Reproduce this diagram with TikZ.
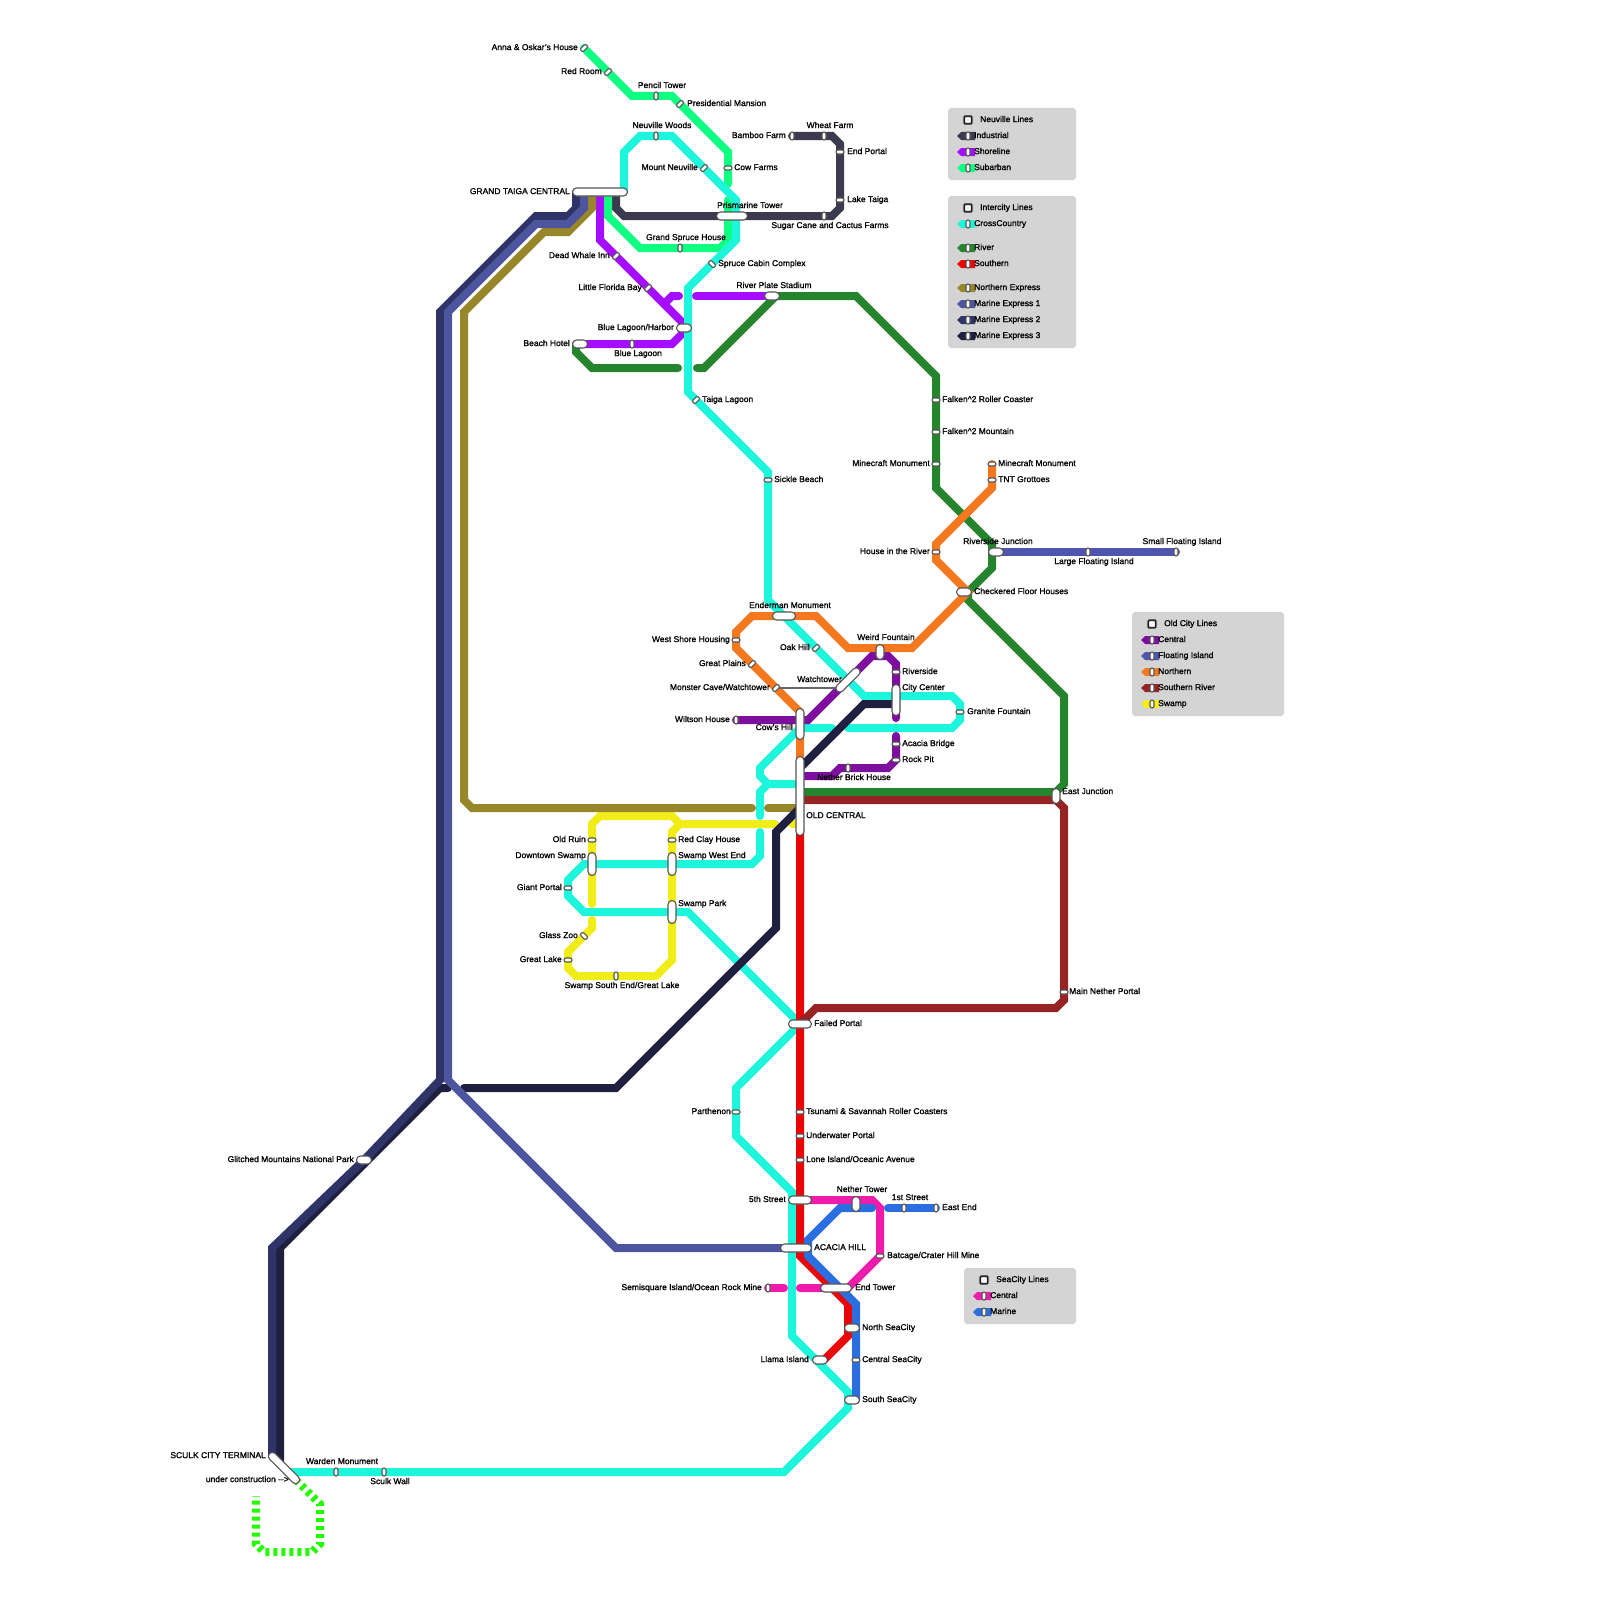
\documentclass[tikz,border=0pt]{standalone}
\usepackage{fontspec}
\usepackage{tikz}
\usepackage{xcolor}
\usetikzlibrary{shapes.symbols,backgrounds}
\setmainfont{Liberation Sans}[FakeBold=1.2]
\definecolor{lineIndustrial}{HTML}{3B3A4E}
\definecolor{lineShoreline}{HTML}{A50DFF}
\definecolor{lineSubarban}{HTML}{10FF82}
\definecolor{lineCross}{HTML}{1DF6DC}
\definecolor{lineRiver}{HTML}{25852F}
\definecolor{lineSouthern}{HTML}{E80606}
\definecolor{lineNorthExp}{HTML}{98862A}
\definecolor{lineMarineA}{HTML}{4E559F}
\definecolor{lineMarineB}{HTML}{2F3468}
\definecolor{lineMarineC}{HTML}{1F2040}
\definecolor{lineCentral}{HTML}{7E0F9E}
\definecolor{lineFloating}{HTML}{4F55AC}
\definecolor{lineNorthern}{HTML}{F47820}
\definecolor{lineSouthRiver}{HTML}{962424}
\definecolor{lineSwamp}{HTML}{F2EC18}
\definecolor{lineSeaCentral}{HTML}{EE1CAC}
\definecolor{lineSeaMarine}{HTML}{2A6EE0}
\definecolor{lineBuild}{HTML}{22FF00}
\definecolor{stopedge}{HTML}{555555}
\definecolor{panelgrey}{HTML}{D4D4D4}

\begin{document}
\begin{tikzpicture}[
  x=1pt, y=-1pt,
  track/.style={line width=8pt, line cap=round},
  stopsmall/.style={draw=stopedge, fill=white, line width=1.1pt, rounded corners=2pt,
               minimum width=8pt, minimum height=4pt, inner sep=0pt},
  hub/.style={draw=stopedge, fill=white, line width=1.1pt, rounded corners=4pt,
               minimum height=8pt, inner sep=0pt},
  lbl/.style={font=\fontsize{8.5}{9}\selectfont, inner sep=0pt, text=black,
               text height=6.2pt, text depth=0pt},
  panel/.style={fill=panelgrey, rounded corners=3pt, inner sep=0pt},
  panelkey/.style={draw=black!85, fill=white, line width=1.8pt, rounded corners=1pt,
               minimum size=7.5pt, inner sep=0pt},
  swatch/.style={shape=signal, signal to=west, signal from=nowhere, minimum width=18pt,
               minimum height=8pt, inner sep=0pt},
]
\useasboundingbox (0,0) rectangle (1600,1600);

% --- stations of the upper Neuville area ----------------------------------
\node[hub, minimum width=55pt] (grandtaiga) at (600,192) {};
\node[hub, minimum width=31pt] (prismarine) at (732,216) {};
\node[hub, minimum width=15pt] (riverplate) at (772,296) {};
\node[hub, minimum width=15pt] (harbor) at (684,328) {};
\node[hub, minimum width=15pt] (beachhotel) at (580,344) {};
\node[stopsmall, rotate=45] (annaoskar) at (584,48) {};
\node[stopsmall, rotate=45] (redroom) at (608,72) {};
\node[stopsmall, rotate=90] (penciltower) at (656,96) {};
\node[stopsmall, rotate=45] (presidential) at (680,104) {};
\node[stopsmall, rotate=90] (neuvillewoods) at (656,136) {};
\node[stopsmall, rotate=45] (mountneuville) at (704,168) {};
\node[stopsmall] (cowfarms) at (728,168) {};
\node[stopsmall, rotate=90] (bamboofarm) at (792,136) {};
\node[stopsmall, rotate=90] (wheatfarm) at (824,136) {};
\node[stopsmall] (endportal) at (840,152) {};
\node[stopsmall] (laketaiga) at (840,200) {};
\node[stopsmall, rotate=90] (sugarcane) at (824,216) {};
\node[stopsmall, rotate=90] (grandspruce) at (680,248) {};
\node[stopsmall, rotate=45] (deadwhale) at (616,256) {};
\node[stopsmall, rotate=-45] (sprucecabin) at (712,264) {};
\node[stopsmall, rotate=45] (florida) at (648,288) {};
\node[stopsmall, rotate=90] (bluelagoon) at (632,344) {};
\node[stopsmall, rotate=45] (taigalagoon) at (696,400) {};
\node[stopsmall] (sicklebeach) at (768,480) {};

\node[lbl, anchor=east] (annaoskar-t) at (578,47) {Anna \& Oskar's House};
\node[lbl, anchor=east] (redroom-t) at (602,71) {Red Room};
\node[lbl] (penciltower-t) at (662,85) {Pencil Tower};
\node[lbl, anchor=west] (presidential-t) at (687,103) {Presidential Mansion};
\node[lbl] (neuvillewoods-t) at (662,125) {Neuville Woods};
\node[lbl, anchor=east] (mountneuville-t) at (698,167) {Mount Neuville};
\node[lbl, anchor=west] (cowfarms-t) at (734,167) {Cow Farms};
\node[lbl, anchor=east] (bamboofarm-t) at (786,135) {Bamboo Farm};
\node[lbl] (wheatfarm-t) at (830,125) {Wheat Farm};
\node[lbl, anchor=west] (endportal-t) at (847,151) {End Portal};
\node[lbl, anchor=west] (laketaiga-t) at (847,199) {Lake Taiga};
\node[lbl] (sugarcane-t) at (830,225) {Sugar Cane and Cactus Farms};
\node[lbl, anchor=east] (grandtaiga-t) at (570,191) {GRAND TAIGA CENTRAL};
\node[lbl] (prismarine-t) at (750,205) {Prismarine Tower};
\node[lbl] (grandspruce-t) at (686,237) {Grand Spruce House};
\node[lbl, anchor=east] (deadwhale-t) at (610,255) {Dead Whale Inn};
\node[lbl, anchor=west] (sprucecabin-t) at (718,263) {Spruce Cabin Complex};
\node[lbl, anchor=east] (florida-t) at (642,287) {Little Florida Bay};
\node[lbl] (riverplate-t) at (774,285) {River Plate Stadium};
\node[lbl, anchor=east] (harbor-t) at (674,327) {Blue Lagoon/Harbor};
\node[lbl, anchor=east] (beachhotel-t) at (570,343) {Beach Hotel};
\node[lbl] (bluelagoon-t) at (638,353) {Blue Lagoon};
\node[lbl, anchor=west] (taigalagoon-t) at (702,399) {Taiga Lagoon};
\node[lbl, anchor=west] (sicklebeach-t) at (774,479) {Sickle Beach};

% --- stations of the river and the old city -------------------------------
\node[stopsmall] (falkencoaster) at (936,400) {};
\node[stopsmall] (falkenmountain) at (936,432) {};
\node[stopsmall] (minecraftriver) at (936,464) {};
\node[stopsmall] (minecraftnorth) at (992,464) {};
\node[stopsmall] (tntgrottoes) at (992,480) {};
\node[stopsmall] (houseriver) at (936,552) {};
\node[hub, minimum width=15pt] (riverjunction) at (996,552) {};
\node[stopsmall, rotate=90] (largefloating) at (1088,552) {};
\node[stopsmall, rotate=90] (smallfloating) at (1176,552) {};
\node[hub, minimum width=15pt] (checkered) at (964,592) {};
\node[hub, minimum width=23pt] (enderman) at (784,616) {};
\node[stopsmall] (westshore) at (736,640) {};
\node[stopsmall, rotate=45] (oakhill) at (816,648) {};
\node[hub, minimum width=15pt, rotate=90] (weirdfountain) at (880,652) {};
\node[stopsmall, rotate=45] (greatplains) at (752,664) {};
\node[stopsmall] (riverside) at (896,672) {};
\node[hub, minimum width=31pt, rotate=45] (watchtower) at (848,680) {};
\node[stopsmall, rotate=45] (monstercave) at (776,688) {};
\node[hub, minimum width=31pt, rotate=90] (citycenter) at (896,700) {};
\node[stopsmall] (granite) at (960,712) {};
\node[stopsmall, rotate=90] (wiltson) at (736,720) {};
\node[hub, minimum width=31pt, rotate=90] (cowshill) at (800,724) {};
\node[stopsmall] (acaciabridge) at (896,744) {};
\node[stopsmall] (rockpit) at (896,760) {};
\node[stopsmall, rotate=90] (netherbrick) at (848,768) {};
\node[hub, minimum width=79pt, rotate=90] (oldcentral) at (800,796) {};
\node[hub, minimum width=15pt, rotate=90] (eastjunction) at (1056,796) {};
\node[stopsmall] (mainnether) at (1064,992) {};

\node[lbl, anchor=west] (falkencoaster-t) at (942,399) {Falken\^{}2 Roller Coaster};
\node[lbl, anchor=west] (falkenmountain-t) at (942,431) {Falken\^{}2 Mountain};
\node[lbl, anchor=east] (minecraftriver-t) at (930,463) {Minecraft Monument};
\node[lbl, anchor=west] (minecraftnorth-t) at (998,463) {Minecraft Monument};
\node[lbl, anchor=west] (tntgrottoes-t) at (998,479) {TNT Grottoes};
\node[lbl, anchor=east] (houseriver-t) at (930,551) {House in the River};
\node[lbl] (riverjunction-t) at (998,541) {Riverside Junction};
\node[lbl] (largefloating-t) at (1094,561) {Large Floating Island};
\node[lbl] (smallfloating-t) at (1182,541) {Small Floating Island};
\node[lbl, anchor=west] (checkered-t) at (974,591) {Checkered Floor Houses};
\node[lbl] (enderman-t) at (790,605) {Enderman Monument};
\node[lbl, anchor=east] (westshore-t) at (730,639) {West Shore Housing};
\node[lbl, anchor=east] (oakhill-t) at (810,647) {Oak Hill};
\node[lbl] (weirdfountain-t) at (886,637) {Weird Fountain};
\node[lbl, anchor=east] (greatplains-t) at (746,663) {Great Plains};
\node[lbl, anchor=west] (riverside-t) at (902,671) {Riverside};
\node[lbl] (watchtower-t) at (819.5,679) {Watchtower};
\node[lbl, anchor=east] (monstercave-t) at (770,687) {Monster Cave/Watchtower};
\node[lbl, anchor=west] (citycenter-t) at (902,687) {City Center};
\node[lbl, anchor=west] (granite-t) at (967,711) {Granite Fountain};
\node[lbl, anchor=east] (wiltson-t) at (730,719) {Wiltson House};
\node[lbl, anchor=east] (cowshill-t) at (793,727) {Cow's Hill};
\node[lbl, anchor=west] (acaciabridge-t) at (902,743) {Acacia Bridge};
\node[lbl, anchor=west] (rockpit-t) at (902,759) {Rock Pit};
\node[lbl] (netherbrick-t) at (854,777) {Nether Brick House};
\node[lbl, anchor=west] (oldcentral-t) at (806,815) {OLD CENTRAL};
\node[lbl, anchor=west] (eastjunction-t) at (1062,791) {East Junction};
\node[lbl, anchor=west] (mainnether-t) at (1069,991) {Main Nether Portal};

% --- stations of the swamp -------------------------------------------------
\node[stopsmall] (oldruin) at (592,840) {};
\node[stopsmall] (redclay) at (672,840) {};
\node[hub, minimum width=23pt, rotate=90] (downtown) at (592,864) {};
\node[hub, minimum width=23pt, rotate=90] (swampwest) at (672,864) {};
\node[stopsmall] (giantportal) at (568,888) {};
\node[hub, minimum width=23pt, rotate=90] (swamppark) at (672,912) {};
\node[stopsmall, rotate=-45] (glasszoo) at (584,936) {};
\node[stopsmall] (greatlake) at (568,960) {};
\node[stopsmall, rotate=90] (swampsouth) at (616,976) {};

\node[lbl, anchor=east] (oldruin-t) at (586,839) {Old Ruin};
\node[lbl, anchor=west] (redclay-t) at (678,839) {Red Clay House};
\node[lbl, anchor=east] (downtown-t) at (586,855) {Downtown Swamp};
\node[lbl, anchor=west] (swampwest-t) at (678,855) {Swamp West End};
\node[lbl, anchor=east] (giantportal-t) at (562,887) {Giant Portal};
\node[lbl, anchor=west] (swamppark-t) at (678,903) {Swamp Park};
\node[lbl, anchor=east] (glasszoo-t) at (578,935) {Glass Zoo};
\node[lbl, anchor=east] (greatlake-t) at (562,959) {Great Lake};
\node[lbl] (swampsouth-t) at (622,985) {Swamp South End/Great Lake};

% --- stations of the south -------------------------------------------------
\node[hub, minimum width=23pt] (failedportal) at (800,1024) {};
\node[stopsmall] (parthenon) at (736,1112) {};
\node[stopsmall] (tsunami) at (800,1112) {};
\node[stopsmall] (underwater) at (800,1136) {};
\node[stopsmall] (loneisland) at (800,1160) {};
\node[hub, minimum width=15pt] (glitched) at (364,1160) {};
\node[hub, minimum width=23pt] (fifthstreet) at (800,1200) {};
\node[hub, minimum width=15pt, rotate=90] (nethertower) at (856,1204) {};
\node[stopsmall, rotate=90] (firststreet) at (904,1208) {};
\node[stopsmall, rotate=90] (eastend) at (936,1208) {};
\node[hub, minimum width=31pt] (acaciahill) at (796,1248) {};
\node[stopsmall] (batcage) at (880,1256) {};
\node[stopsmall, rotate=90] (semisquare) at (768,1288) {};
\node[hub, minimum width=31pt] (endtower) at (836,1288) {};
\node[hub, minimum width=15pt] (northsea) at (852,1328) {};
\node[hub, minimum width=15pt] (llama) at (820,1360) {};
\node[stopsmall] (centralsea) at (856,1360) {};
\node[hub, minimum width=15pt] (southsea) at (852,1400) {};
\node[hub, minimum width=41pt, rotate=-45] (sculkterminal) at (284,1468) {};
\node[stopsmall, rotate=90] (warden) at (336,1472) {};
\node[stopsmall, rotate=90] (sculkwall) at (384,1472) {};

\node[lbl, anchor=west] (failedportal-t) at (814,1023) {Failed Portal};
\node[lbl, anchor=east] (parthenon-t) at (731,1111) {Parthenon};
\node[lbl, anchor=west] (tsunami-t) at (806,1111) {Tsunami \& Savannah Roller Coasters};
\node[lbl, anchor=west] (underwater-t) at (806,1135) {Underwater Portal};
\node[lbl, anchor=west] (loneisland-t) at (806,1159) {Lone Island/Oceanic Avenue};
\node[lbl, anchor=east] (glitched-t) at (354,1159) {Glitched Mountains National Park};
\node[lbl, anchor=east] (fifthstreet-t) at (786,1199) {5th Street};
\node[lbl] (nethertower-t) at (862,1189) {Nether Tower};
\node[lbl] (firststreet-t) at (910,1197) {1st Street};
\node[lbl, anchor=west] (eastend-t) at (942,1207) {East End};
\node[lbl, anchor=west] (acaciahill-t) at (814,1247) {ACACIA HILL};
\node[lbl, anchor=west] (batcage-t) at (887,1255) {Batcage/Crater Hill Mine};
\node[lbl, anchor=east] (semisquare-t) at (762,1287) {Semisquare Island/Ocean Rock Mine};
\node[lbl, anchor=west] (endtower-t) at (855,1287) {End Tower};
\node[lbl, anchor=west] (northsea-t) at (862,1327) {North SeaCity};
\node[lbl, anchor=east] (llama-t) at (809,1359) {Llama Island};
\node[lbl, anchor=west] (centralsea-t) at (862,1359) {Central SeaCity};
\node[lbl, anchor=west] (southsea-t) at (862,1399) {South SeaCity};
\node[lbl, anchor=east] (sculkterminal-t) at (266,1455) {SCULK CITY TERMINAL};
\node[lbl, anchor=east] (building-t) at (289,1479) {under construction -{}->};
\node[lbl] (warden-t) at (342,1461) {Warden Monument};
\node[lbl] (sculkwall-t) at (390,1481) {Sculk Wall};

% --- the lines go on the background layer, so the stations stay on top
\begin{scope}[on background layer]
\draw[track, lineIndustrial] ([xshift=16pt]grandtaiga.center) -- (616,208) -- (624,216)
  -- (sugarcane.center) -- (832,216) -- (840,208) -- (laketaiga.center) -- (endportal.center)
  -- (840,144) -- (832,136) -- (wheatfarm.center) -- (bamboofarm.center);

\draw[track, lineShoreline] (grandtaiga.center) -- (600,240) -- (deadwhale.center)
  -- (florida.center) -- (664,304) -- ([xshift=4pt]harbor.center);
\draw[track, lineShoreline] (664,304) -- (672,296) -- (679,296);
\draw[track, lineShoreline] (696,296) -- (riverplate.center);
\draw[track, lineShoreline] (beachhotel.center) -- (bluelagoon.center) -- (672,344)
  -- ([xshift=4pt]harbor.center);

\draw[track, lineSubarban] (annaoskar.center) -- (redroom.center) -- (632,96)
  -- (penciltower.center) -- (672,96) -- (presidential.center) -- (728,152)
  -- (cowfarms.center) -- (728,184);
\draw[track, lineSubarban] (728,200) -- (728,240) -- (720,248) -- (grandspruce.center)
  -- (640,248) -- (608,216) -- ([xshift=8pt]grandtaiga.center);

\draw[track, lineRiver] ([xshift=-4pt]beachhotel.center) -- (576,352) -- (592,368) -- (678,368);
\draw[track, lineRiver] (697,368) -- (704,368) -- ([xshift=4pt]riverplate.center) -- (856,296)
  -- (936,376) -- (falkencoaster.center) -- (falkenmountain.center) -- (minecraftriver.center)
  -- (936,488) -- (992,544) -- (992,568) -- ([xshift=4pt]checkered.center) -- (968,600)
  -- (1064,696) -- (1064,784) -- (1056,792) -- ([yshift=4pt]oldcentral.center);

\draw[track, lineCross] ([xshift=24pt]grandtaiga.center) -- (624,152) -- (640,136)
  -- (neuvillewoods.center) -- (672,136) -- (mountneuville.center) -- (736,200) -- (736,240)
  -- (sprucecabin.center) -- (688,288) -- (688,392) -- (taigalagoon.center) -- (768,472)
  -- (sicklebeach.center) -- (768,600) -- (oakhill.center) -- (watchtower.center) -- (864,696)
  -- (952,696) -- (960,704) -- (granite.center) -- (960,720) -- (952,728) -- (848,728);
\draw[track, lineCross] (832,728) -- ([yshift=-4pt]cowshill.center) -- (760,768) -- (760,776)
  -- (768,784) -- ([yshift=12pt]oldcentral.center);
\draw[track, lineCross] (768,784) -- (760,792) -- (760,816);
\draw[track, lineCross] (760,832) -- (760,856) -- (752,864) -- (swampwest.center)
  -- (downtown.center) -- (584,864) -- (568,880) -- (giantportal.center) -- (568,896)
  -- (584,912) -- (swamppark.center) -- (688,912) -- (failedportal.center) -- (736,1088)
  -- (parthenon.center) -- (736,1136) -- (792,1192) -- (792,1336) -- (848,1392) -- (848,1408)
  -- (784,1472) -- (sculkwall.center) -- (warden.center)
  -- ([shift={(4pt,-4pt)}]sculkterminal.center);

\draw[track, lineSouthern] ([yshift=-32pt]oldcentral.center) -- (failedportal.center)
  -- (tsunami.center) -- (underwater.center) -- (loneisland.center) -- (fifthstreet.center)
  -- (800,1256) -- (848,1304) -- (848,1336) -- ([xshift=4pt]llama.center);

\draw[track, lineSouthRiver] ([yshift=-4pt]oldcentral.center) -- (1056,800) -- (1064,808)
  -- (mainnether.center) -- (1064,1000) -- (1056,1008) -- (816,1008) -- (failedportal.center);

\draw[track, lineNorthern] (minecraftnorth.center) -- (tntgrottoes.center) -- (992,488)
  -- (936,544) -- (houseriver.center) -- (936,560) -- ([xshift=4pt]checkered.center) -- (912,648)
  -- (848,648) -- (816,616) -- (enderman.center) -- (752,616) -- (736,632)
  -- (westshore.center) -- (736,648) -- (greatplains.center) -- (monstercave.center) -- (800,712)
  -- ([yshift=28pt]oldcentral.center);

\draw[track, lineCentral] (wiltson.center) -- (808,720) -- (watchtower.center) -- (872,656)
  -- (888,656) -- (896,664) -- (riverside.center) -- (citycenter.center) -- (896,718);
\draw[track, lineCentral] (896,736) -- (acaciabridge.center) -- (rockpit.center) -- (888,768)
  -- (netherbrick.center) -- (840,768) -- (832,776) -- ([yshift=20pt]oldcentral.center);

\draw[track, lineFloating] (riverjunction.center) -- (largefloating.center) -- (smallfloating.center);

\draw[track, lineSwamp] (792,824) -- (800,824);
\draw[track, lineSwamp] (775,824) -- (680,824) -- (672,816) -- (600,816) -- (592,824)
  -- (oldruin.center) -- (downtown.center) -- (592,904);
\draw[track, lineSwamp] (592,920) -- (592,928) -- (glasszoo.center) -- (568,952)
  -- (greatlake.center) -- (568,968) -- (576,976) -- (swampsouth.center) -- (656,976)
  -- (672,960) -- (swamppark.center) -- (swampwest.center) -- (redclay.center) -- (672,832)
  -- (680,824);

\draw[track, lineNorthExp] ([xshift=-8pt]grandtaiga.center) -- (592,208) -- (568,232)
  -- (544,232) -- (464,312) -- (464,800) -- (472,808) -- (752,808);
\draw[track, lineNorthExp] (768,808) -- ([yshift=-12pt]oldcentral.center);

\draw[track, lineMarineC] (448,1088) -- (440,1088) -- (280,1248) -- ([shift={(-4pt,4pt)}]sculkterminal.center);
\draw[track, lineMarineC] (464,1088) -- (616,1088) -- (776,928) -- (776,832)
  -- ([yshift=-12pt]oldcentral.center);
\draw[track, lineMarineC] ([yshift=-4pt]citycenter.center) -- (864,704)
  -- ([yshift=28pt]oldcentral.center);
\draw[track, lineMarineB] ([xshift=-24pt]grandtaiga.center) -- (576,208) -- (568,216)
  -- (536,216) -- (440,312) -- (440,1080) -- (glitched.center) -- (272,1248) -- (272,1456);
\draw[track, lineMarineA] ([xshift=-16pt]grandtaiga.center) -- (584,208) -- (568,224)
  -- (536,224) -- (448,312) -- (448,1080) -- (616,1248) -- ([xshift=-12pt]acaciahill.center);

\draw[track, lineSeaCentral] (fifthstreet.center) -- (872,1200) -- (880,1208) -- (batcage.center)
  -- ([xshift=12pt]endtower.center) -- (800,1288);
\draw[track, lineSeaCentral] (784,1288) -- (semisquare.center);
\draw[track, lineSeaMarine] ([xshift=12pt]acaciahill.center) -- (808,1240) -- (840,1208) -- (872,1208);
\draw[track, lineSeaMarine] (888,1208) -- (firststreet.center) -- (eastend.center);
\draw[track, lineSeaMarine] ([xshift=12pt]acaciahill.center) -- (808,1256) -- (856,1304)
  -- (centralsea.center) -- (856,1400);

\draw[line width=8pt, lineBuild, dash pattern=on 4pt off 4pt] ([shift={(12pt,-12pt)}]sculkterminal.center)
  -- (320,1504) -- (320,1544) -- (312,1552) -- (264,1552) -- (256,1544) -- (256,1496);
\draw[line width=1.5pt, stopedge!90] (monstercave.center) -- ([shift={(-8pt,-8pt)}]watchtower.center);
\end{scope}

% --- legend --------------------------------------------------------------
\node[panel, minimum width=128pt, minimum height=72pt] (neuvillepanel) at (1012,144) {};
\node[panelkey] (neuvillekey) at (968,120) {};
\node[lbl, anchor=west] (neuvilletitle) at (980,119) {Neuville Lines};
\node[swatch, fill=lineIndustrial] (keyindustrial) at (968,136) {};
\node[stopsmall, rotate=90] at (keyindustrial) {};
\node[lbl, anchor=west] (keyindustrial-t) at (974,135) {Industrial};
\node[swatch, fill=lineShoreline] (keyshoreline) at (968,152) {};
\node[stopsmall, rotate=90] at (keyshoreline) {};
\node[lbl, anchor=west] (keyshoreline-t) at (974,151) {Shoreline};
\node[swatch, fill=lineSubarban] (keysubarban) at (968,168) {};
\node[stopsmall, rotate=90] at (keysubarban) {};
\node[lbl, anchor=west] (keysubarban-t) at (974,167) {Subarban};

\node[panel, minimum width=128pt, minimum height=152pt] (intercitypanel) at (1012,272) {};
\node[panelkey] (intercitykey) at (968,208) {};
\node[lbl, anchor=west] (intercitytitle) at (980,207) {Intercity Lines};
\node[swatch, fill=lineCross] (keycross) at (968,224) {};
\node[stopsmall, rotate=90] at (keycross) {};
\node[lbl, anchor=west] (keycross-t) at (974,223) {CrossCountry};
\node[swatch, fill=lineRiver] (keyriver) at (968,248) {};
\node[stopsmall, rotate=90] at (keyriver) {};
\node[lbl, anchor=west] (keyriver-t) at (974,247) {River};
\node[swatch, fill=lineSouthern] (keysouthern) at (968,264) {};
\node[stopsmall, rotate=90] at (keysouthern) {};
\node[lbl, anchor=west] (keysouthern-t) at (974,263) {Southern};
\node[swatch, fill=lineNorthExp] (keynorthexp) at (968,288) {};
\node[stopsmall, rotate=90] at (keynorthexp) {};
\node[lbl, anchor=west] (keynorthexp-t) at (974,287) {Northern Express};
\node[swatch, fill=lineMarineA] (keymarinea) at (968,304) {};
\node[stopsmall, rotate=90] at (keymarinea) {};
\node[lbl, anchor=west] (keymarinea-t) at (974,303) {Marine Express 1};
\node[swatch, fill=lineMarineB] (keymarineb) at (968,320) {};
\node[stopsmall, rotate=90] at (keymarineb) {};
\node[lbl, anchor=west] (keymarineb-t) at (974,319) {Marine Express 2};
\node[swatch, fill=lineMarineC] (keymarinec) at (968,336) {};
\node[stopsmall, rotate=90] at (keymarinec) {};
\node[lbl, anchor=west] (keymarinec-t) at (974,335) {Marine Express 3};

\node[panel, minimum width=152pt, minimum height=104pt] (oldcitypanel) at (1208,664) {};
\node[panelkey] (oldcitykey) at (1152,624) {};
\node[lbl, anchor=west] (oldcitytitle) at (1164,623) {Old City Lines};
\node[swatch, fill=lineCentral] (keycentral) at (1152,640) {};
\node[stopsmall, rotate=90] at (keycentral) {};
\node[lbl, anchor=west] (keycentral-t) at (1158,639) {Central};
\node[swatch, fill=lineFloating] (keyfloating) at (1152,656) {};
\node[stopsmall, rotate=90] at (keyfloating) {};
\node[lbl, anchor=west] (keyfloating-t) at (1158,655) {Floating Island};
\node[swatch, fill=lineNorthern] (keynorthern) at (1152,672) {};
\node[stopsmall, rotate=90] at (keynorthern) {};
\node[lbl, anchor=west] (keynorthern-t) at (1158,671) {Northern};
\node[swatch, fill=lineSouthRiver] (keysouthriver) at (1152,688) {};
\node[stopsmall, rotate=90] at (keysouthriver) {};
\node[lbl, anchor=west] (keysouthriver-t) at (1158,687) {Southern River};
\node[swatch, fill=lineSwamp] (keyswamp) at (1152,704) {};
\node[stopsmall, rotate=90] at (keyswamp) {};
\node[lbl, anchor=west] (keyswamp-t) at (1158,703) {Swamp};

\node[panel, minimum width=112pt, minimum height=56pt] (seacitypanel) at (1020,1296) {};
\node[panelkey] (seacitykey) at (984,1280) {};
\node[lbl, anchor=west] (seacitytitle) at (996,1279) {SeaCity Lines};
\node[swatch, fill=lineSeaCentral] (keyseacentral) at (984,1296) {};
\node[stopsmall, rotate=90] at (keyseacentral) {};
\node[lbl, anchor=west] (keyseacentral-t) at (990,1295) {Central};
\node[swatch, fill=lineSeaMarine] (keyseamarine) at (984,1312) {};
\node[stopsmall, rotate=90] at (keyseamarine) {};
\node[lbl, anchor=west] (keyseamarine-t) at (990,1311) {Marine};
\end{tikzpicture}
\end{document}
